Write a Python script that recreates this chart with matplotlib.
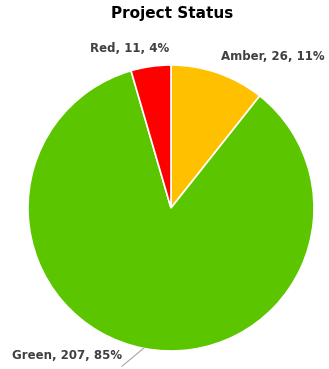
import numpy as np
import matplotlib
matplotlib.use('Agg')
import matplotlib.pyplot as plt

# Project status counts (clockwise from 12 o'clock)
statuses = ['Amber', 'Green', 'Red']
counts = [26, 207, 11]
pct_labels = [11, 85, 4]
colors = ['#FFC000', '#5BC500', '#FF0000']

# label centres, axes fraction
label_pos = {'Amber': (0.857, 1.028), 'Green': (0.136, -0.017), 'Red': (0.357, 1.056)}

plt.rcParams['font.family'] = ['DejaVu Sans']

fig = plt.figure(figsize=(3.29, 3.69), dpi=100)
ax = fig.add_axes([28 / 329, 18 / 369, 286 / 329, 286 / 369])

wedges, _ = ax.pie(counts, colors=colors, startangle=90, counterclock=False,
                   radius=1.0, wedgeprops=dict(edgecolor='white', linewidth=1.2))
ax.set_xlim(-1, 1)
ax.set_ylim(-1, 1)
ax.set_aspect('auto')
ax.axis('off')

for name, n, pct, w in zip(statuses, counts, pct_labels, wedges):
    text = f'{name}, {n}, {pct}%'
    x, y = label_pos[name]
    if name == 'Green':
        mid = np.deg2rad((w.theta1 + w.theta2) / 2)
        ax.annotate(text, xy=(np.cos(mid), np.sin(mid)), xycoords='data',
                    xytext=(x, y), textcoords='axes fraction',
                    ha='center', va='center', fontsize=8.5, fontweight='bold',
                    color='#404040',
                    arrowprops=dict(arrowstyle='-', color='#A6A6A6', lw=0.8,
                                    shrinkA=0, shrinkB=0,
                                    relpos=(1.0, -0.3)),
                    annotation_clip=False)
    else:
        ax.text(x, y, text, transform=ax.transAxes, ha='center', va='center',
                fontsize=8.5, fontweight='bold', color='#404040', clip_on=False)

fig.suptitle('Project Status', x=0.523, y=0.985, fontsize=11, fontweight='bold',
             color='#000000')

fig.savefig('out.png', dpi=100)
